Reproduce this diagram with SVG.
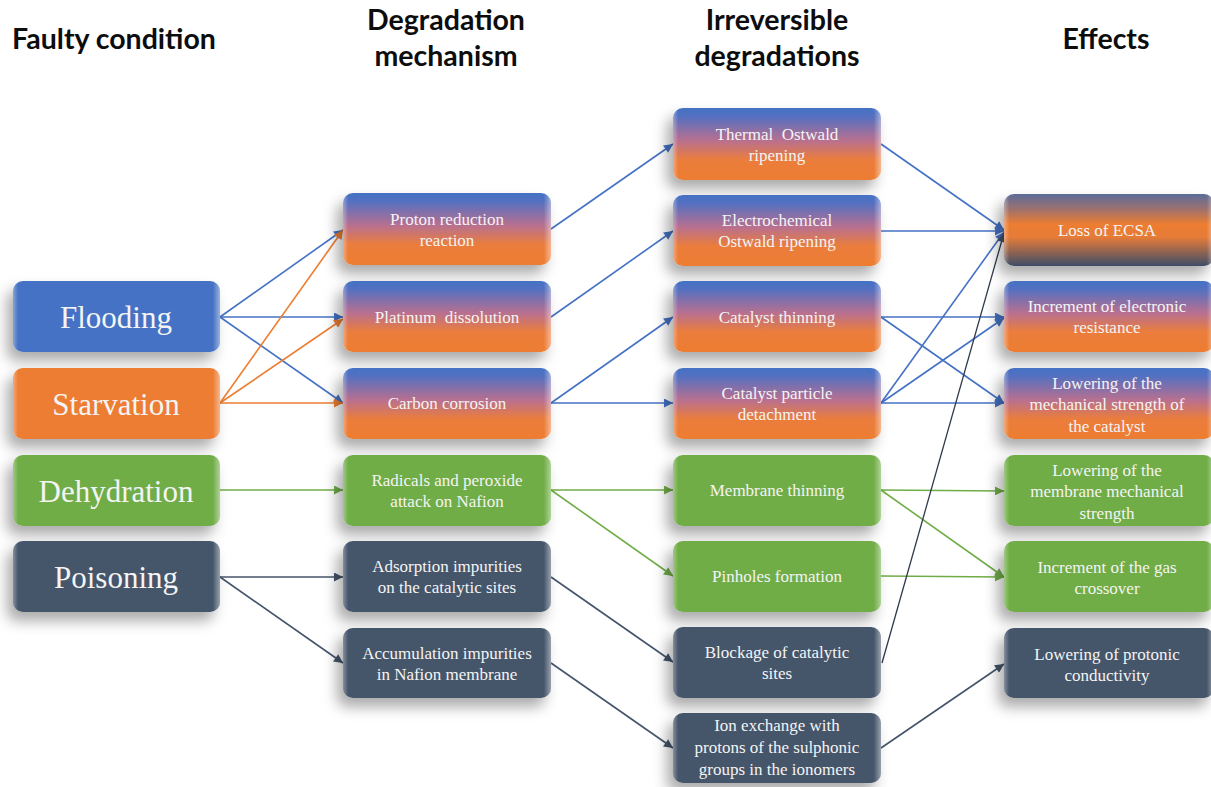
<svg xmlns="http://www.w3.org/2000/svg" width="1211" height="787" viewBox="0 0 1211 787">
<defs>
<style>
.hdr{font-family:Lato,"Liberation Sans",sans-serif;font-weight:bold;font-size:28.5px;fill:#0d0d0d;text-anchor:middle}
.big{font-family:"Liberation Serif",serif;font-size:31px;fill:#f4f4f4;text-anchor:middle}
.t{font-family:"Liberation Serif",serif;font-size:17px;fill:#f4f4f4;text-anchor:middle}
.box{filter:url(#sh)}
.hl{fill:url(#hl);pointer-events:none}
.c{fill:none;stroke-width:1.6}
.cb{stroke:#4472C4;marker-end:url(#ab)}
.co{stroke:#ED7D31;marker-end:url(#ao)}
.cg{stroke:#70AD47;marker-end:url(#ag)}
.cs{stroke:#44546A;marker-end:url(#as)}
.ck{stroke:#2f3a4c;stroke-width:1.3;marker-end:url(#as)}
</style>
<filter id="sh" x="-20%" y="-30%" width="140%" height="170%">
<feDropShadow dx="-6" dy="9" stdDeviation="7" flood-color="#000" flood-opacity="0.33"/>
</filter>
<linearGradient id="gbo" x1="0" y1="0" x2="0" y2="1">
<stop offset="0" stop-color="#4472C4"/>
<stop offset="0.12" stop-color="#5570C0"/>
<stop offset="0.45" stop-color="#B87090"/>
<stop offset="0.72" stop-color="#EB7D3C"/>
<stop offset="1" stop-color="#ED7D31"/>
</linearGradient>
<linearGradient id="gecsa" x1="0" y1="0" x2="0" y2="1">
<stop offset="0" stop-color="#5a6c98"/>
<stop offset="0.2" stop-color="#9a7070"/>
<stop offset="0.42" stop-color="#ED7D31"/>
<stop offset="0.6" stop-color="#E57B38"/>
<stop offset="1" stop-color="#3e4d68"/>
</linearGradient>
<linearGradient id="hl" x1="0" y1="0" x2="1" y2="0">
<stop offset="0" stop-color="#fff" stop-opacity="0.35"/>
<stop offset="0.025" stop-color="#fff" stop-opacity="0"/>
<stop offset="0.965" stop-color="#fff" stop-opacity="0"/>
<stop offset="1" stop-color="#fff" stop-opacity="0.45"/>
</linearGradient>
<marker id="ab" viewBox="0 0 10 10" refX="10" refY="5" markerWidth="10" markerHeight="9" markerUnits="userSpaceOnUse" orient="auto"><path d="M0,0 L10,5 L0,10 z" fill="#4472C4"/></marker>
<marker id="ao" viewBox="0 0 10 10" refX="10" refY="5" markerWidth="10" markerHeight="9" markerUnits="userSpaceOnUse" orient="auto"><path d="M0,0 L10,5 L0,10 z" fill="#ED7D31"/></marker>
<marker id="ag" viewBox="0 0 10 10" refX="10" refY="5" markerWidth="10" markerHeight="9" markerUnits="userSpaceOnUse" orient="auto"><path d="M0,0 L10,5 L0,10 z" fill="#70AD47"/></marker>
<marker id="as" viewBox="0 0 10 10" refX="10" refY="5" markerWidth="10" markerHeight="9" markerUnits="userSpaceOnUse" orient="auto"><path d="M0,0 L10,5 L0,10 z" fill="#44546A"/></marker>
</defs>
<rect width="1211" height="787" fill="#fff"/>

<g id="headers">
<text class="hdr" x="114" y="49">Faulty condition</text>
<text class="hdr" x="446" y="30">Degradation</text>
<text class="hdr" x="446" y="66">mechanism</text>
<text class="hdr" x="777" y="30">Irreversible</text>
<text class="hdr" x="777" y="66">degradations</text>
<text class="hdr" x="1106" y="49">Effects</text>
</g>

<g id="connectors">
<line class="c cb" x1="220" y1="317" x2="343" y2="230"/>
<line class="c cb" x1="220" y1="317" x2="343" y2="317"/>
<line class="c cb" x1="220" y1="317" x2="343" y2="403"/>
<line class="c co" x1="220" y1="403" x2="343" y2="230"/>
<line class="c co" x1="220" y1="403" x2="343" y2="319"/>
<line class="c co" x1="220" y1="403" x2="343" y2="403"/>
<line class="c cg" x1="220" y1="490" x2="343" y2="490"/>
<line class="c cs" x1="220" y1="577" x2="343" y2="577"/>
<line class="c cs" x1="220" y1="577" x2="343" y2="663"/>

<line class="c cb" x1="551" y1="229" x2="673" y2="144"/>
<line class="c cb" x1="551" y1="317" x2="673" y2="231"/>
<line class="c cb" x1="551" y1="403" x2="673" y2="317"/>
<line class="c cb" x1="551" y1="403" x2="673" y2="403"/>
<line class="c cg" x1="551" y1="490" x2="673" y2="490"/>
<line class="c cg" x1="551" y1="490" x2="673" y2="576"/>
<line class="c cs" x1="551" y1="577" x2="673" y2="662"/>
<line class="c cs" x1="551" y1="663" x2="673" y2="748"/>

<line class="c cb" x1="881" y1="144" x2="1004" y2="230"/>
<line class="c cb" x1="881" y1="231" x2="1004" y2="231"/>
<line class="c cb" x1="881" y1="317" x2="1004" y2="317"/>
<line class="c cb" x1="881" y1="317" x2="1004" y2="403"/>
<line class="c cb" x1="881" y1="403" x2="1004" y2="232"/>
<line class="c cb" x1="881" y1="403" x2="1004" y2="318"/>
<line class="c cb" x1="881" y1="403" x2="1004" y2="403"/>
<line class="c cg" x1="881" y1="490" x2="1004" y2="491"/>
<line class="c cg" x1="881" y1="490" x2="1004" y2="577"/>
<line class="c cg" x1="881" y1="576" x2="1004" y2="577"/>
<line class="c ck" x1="882" y1="663" x2="1004" y2="233"/>
<line class="c cs" x1="881" y1="748" x2="1004" y2="664"/>
</g>

<g id="n-flooding"><rect class="box" x="13" y="281" width="207" height="71" rx="10" fill="#4472C4"/><rect class="hl" x="13" y="281" width="207" height="71" rx="10"/><text class="big" x="116" y="328">Flooding</text></g>
<g id="n-starvation"><rect class="box" x="13" y="368" width="207" height="71" rx="10" fill="#ED7D31"/><rect class="hl" x="13" y="368" width="207" height="71" rx="10"/><text class="big" x="116" y="415">Starvation</text></g>
<g id="n-dehydration"><rect class="box" x="13" y="455" width="207" height="71" rx="10" fill="#70AD47"/><rect class="hl" x="13" y="455" width="207" height="71" rx="10"/><text class="big" x="116" y="502">Dehydration</text></g>
<g id="n-poisoning"><rect class="box" x="13" y="541" width="207" height="71" rx="10" fill="#44546A"/><rect class="hl" x="13" y="541" width="207" height="71" rx="10"/><text class="big" x="116" y="588">Poisoning</text></g>

<g id="n-proton"><rect class="box" x="343" y="193" width="208" height="72" rx="10" fill="url(#gbo)"/><rect class="hl" x="343" y="193" width="208" height="72" rx="10"/><text class="t" x="447" y="225">Proton reduction</text><text class="t" x="447" y="246">reaction</text></g>
<g id="n-platinum"><rect class="box" x="343" y="281" width="208" height="71" rx="10" fill="url(#gbo)"/><rect class="hl" x="343" y="281" width="208" height="71" rx="10"/><text class="t" x="447" y="323" xml:space="preserve">Platinum  dissolution</text></g>
<g id="n-carbon"><rect class="box" x="343" y="368" width="208" height="71" rx="10" fill="url(#gbo)"/><rect class="hl" x="343" y="368" width="208" height="71" rx="10"/><text class="t" x="447" y="409">Carbon corrosion</text></g>
<g id="n-radicals"><rect class="box" x="343" y="455" width="208" height="71" rx="10" fill="#70AD47"/><rect class="hl" x="343" y="455" width="208" height="71" rx="10"/><text class="t" x="447" y="486">Radicals and peroxide</text><text class="t" x="447" y="507">attack on Nafion</text></g>
<g id="n-adsorption"><rect class="box" x="343" y="541" width="208" height="71" rx="10" fill="#44546A"/><rect class="hl" x="343" y="541" width="208" height="71" rx="10"/><text class="t" x="447" y="572">Adsorption impurities</text><text class="t" x="447" y="593">on the catalytic sites</text></g>
<g id="n-accumulation"><rect class="box" x="343" y="628" width="208" height="70" rx="10" fill="#44546A"/><rect class="hl" x="343" y="628" width="208" height="70" rx="10"/><text class="t" x="447" y="659">Accumulation impurities</text><text class="t" x="447" y="680">in Nafion membrane</text></g>

<g id="n-thermal"><rect class="box" x="673" y="108" width="208" height="72" rx="10" fill="url(#gbo)"/><rect class="hl" x="673" y="108" width="208" height="72" rx="10"/><text class="t" x="777" y="140" xml:space="preserve">Thermal  Ostwald</text><text class="t" x="777" y="161">ripening</text></g>
<g id="n-electro"><rect class="box" x="673" y="195" width="208" height="71" rx="10" fill="url(#gbo)"/><rect class="hl" x="673" y="195" width="208" height="71" rx="10"/><text class="t" x="777" y="226">Electrochemical</text><text class="t" x="777" y="247">Ostwald ripening</text></g>
<g id="n-cthinning"><rect class="box" x="673" y="281" width="208" height="71" rx="10" fill="url(#gbo)"/><rect class="hl" x="673" y="281" width="208" height="71" rx="10"/><text class="t" x="777" y="323">Catalyst thinning</text></g>
<g id="n-detach"><rect class="box" x="673" y="368" width="208" height="71" rx="10" fill="url(#gbo)"/><rect class="hl" x="673" y="368" width="208" height="71" rx="10"/><text class="t" x="777" y="399">Catalyst particle</text><text class="t" x="777" y="420">detachment</text></g>
<g id="n-mthinning"><rect class="box" x="673" y="455" width="208" height="71" rx="10" fill="#70AD47"/><rect class="hl" x="673" y="455" width="208" height="71" rx="10"/><text class="t" x="777" y="496">Membrane thinning</text></g>
<g id="n-pinholes"><rect class="box" x="673" y="541" width="208" height="71" rx="10" fill="#70AD47"/><rect class="hl" x="673" y="541" width="208" height="71" rx="10"/><text class="t" x="777" y="582">Pinholes formation</text></g>
<g id="n-blockage"><rect class="box" x="673" y="627" width="208" height="71" rx="10" fill="#44546A"/><rect class="hl" x="673" y="627" width="208" height="71" rx="10"/><text class="t" x="777" y="658">Blockage of catalytic</text><text class="t" x="777" y="679">sites</text></g>
<g id="n-ionexchange"><rect class="box" x="673" y="713" width="208" height="70" rx="10" fill="#44546A"/><rect class="hl" x="673" y="713" width="208" height="70" rx="10"/><text class="t" x="777" y="731">Ion exchange with</text><text class="t" x="777" y="753">protons of the sulphonic</text><text class="t" x="777" y="775">groups in the ionomers</text></g>

<g id="n-ecsa"><rect class="box" x="1004" y="194" width="210" height="72" rx="10" fill="url(#gecsa)"/><rect class="hl" x="1004" y="194" width="210" height="72" rx="10"/><text class="t" x="1107" y="236">Loss of ECSA</text></g>
<g id="n-electronic"><rect class="box" x="1004" y="281" width="210" height="71" rx="10" fill="url(#gbo)"/><rect class="hl" x="1004" y="281" width="210" height="71" rx="10"/><text class="t" x="1107" y="312">Increment of electronic</text><text class="t" x="1107" y="333">resistance</text></g>
<g id="n-mechcat"><rect class="box" x="1004" y="368" width="210" height="71" rx="10" fill="url(#gbo)"/><rect class="hl" x="1004" y="368" width="210" height="71" rx="10"/><text class="t" x="1107" y="389">Lowering of the</text><text class="t" x="1107" y="410">mechanical strength of</text><text class="t" x="1107" y="432">the catalyst</text></g>
<g id="n-mechmem"><rect class="box" x="1004" y="455" width="210" height="71" rx="10" fill="#70AD47"/><rect class="hl" x="1004" y="455" width="210" height="71" rx="10"/><text class="t" x="1107" y="476">Lowering of the</text><text class="t" x="1107" y="497">membrane mechanical</text><text class="t" x="1107" y="519">strength</text></g>
<g id="n-crossover"><rect class="box" x="1004" y="541" width="210" height="71" rx="10" fill="#70AD47"/><rect class="hl" x="1004" y="541" width="210" height="71" rx="10"/><text class="t" x="1107" y="573">Increment of the gas</text><text class="t" x="1107" y="594">crossover</text></g>
<g id="n-protonic"><rect class="box" x="1004" y="628" width="210" height="70" rx="10" fill="#44546A"/><rect class="hl" x="1004" y="628" width="210" height="70" rx="10"/><text class="t" x="1107" y="660">Lowering of protonic</text><text class="t" x="1107" y="681">conductivity</text></g>
</svg>
